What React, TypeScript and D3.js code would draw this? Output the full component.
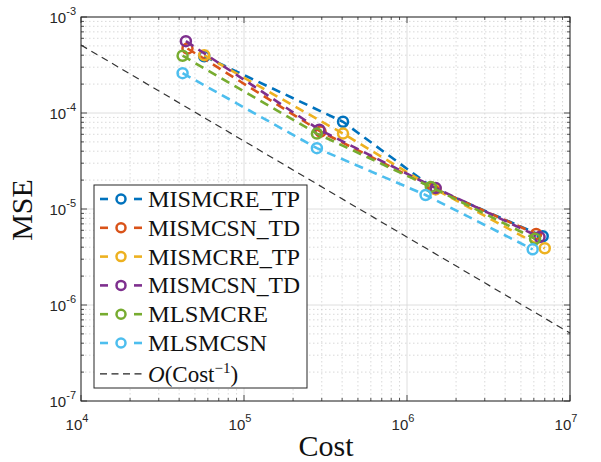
import React from "react";
import * as d3 from "d3";

const seriesNames = ["MISMCRE_TP", "MISMCSN_TD", "MISMCRE_TP", "MISMCSN_TD", "MLSMCRE", "MLSMCSN"];
const seriesColors = ["#0072BD", "#D95319", "#EDB120", "#7E2F8E", "#77AC30", "#4DBEEE"];
const legendTextWidth = [152, 152, 152, 152, 120, 119];

const costBlue = [57e3, 4.05e5, 1.45e6, 6.8e6];
const mseBlue = [3.9e-4, 8.1e-5, 1.65e-5, 5.2e-6];
const costRed = [45e3, 2.95e5, 1.45e6, 6.2e6];
const mseRed = [4.7e-4, 6.4e-5, 1.65e-5, 5.5e-6];
const costYellow = [57e3, 4.05e5, 1.5e6, 7.0e6];
const mseYellow = [4.0e-4, 6.1e-5, 1.6e-5, 3.9e-6];
const costPurple = [44e3, 2.9e5, 1.5e6, 6.5e6];
const msePurple = [5.6e-4, 6.7e-5, 1.65e-5, 5.1e-6];
const costGreen = [42e3, 2.8e5, 1.4e6, 6.1e6];
const mseGreen = [3.95e-4, 6.1e-5, 1.7e-5, 4.9e-6];
const costCyan = [42e3, 2.8e5, 1.3e6, 5.9e6];
const mseCyan = [2.6e-4, 4.3e-5, 1.4e-5, 3.8e-6];

const refCost = [1e4, 1e7];
const refConst = 5.1; // MSE = 5.1 / Cost

const xExp = [4, 5, 6, 7];
const yExp = [-3, -4, -5, -6, -7];

const W = 601, H = 462;
const L = 81, R = 570, T = 17, B = 401;
const serif = "Liberation Serif, Times New Roman, serif";

const App = () => {
  const x = d3.scaleLog().domain([1e4, 1e7]).range([L, R]);
  const y = d3.scaleLog().domain([1e-7, 1e-3]).range([B, T]);

  const series = [
    [costBlue, mseBlue],
    [costRed, mseRed],
    [costYellow, mseYellow],
    [costPurple, msePurple],
    [costGreen, mseGreen],
    [costCyan, mseCyan],
  ].map(([c, m], i) => ({
    name: seriesNames[i],
    color: seriesColors[i],
    pts: c.map((v, j) => [v, m[j]] as [number, number]),
  }));

  const line = d3
    .line<[number, number]>()
    .x(d => x(d[0]))
    .y(d => y(d[1]));

  const refPts = refCost.map(c => [c, refConst / c] as [number, number]);

  const xMinor: number[] = [];
  for (let e = 4; e < 7; e++) for (let k = 2; k <= 9; k++) xMinor.push(k * Math.pow(10, e));
  const yMinor: number[] = [];
  for (let e = -7; e < -3; e++) for (let k = 2; k <= 9; k++) yMinor.push(k * Math.pow(10, e));

  const rowY = (i: number) => 199 + i * 28.8 + (i === 6 ? 2 : 0);

  return (
    <svg width={W} height={H} style={{ position: "absolute", left: 0, top: 0, background: "#fff" }}>
      <rect x={L} y={T} width={R - L} height={B - T} fill="#fff" />
      {/* minor grid */}
      <g stroke="#c8c8c8" strokeWidth={0.7} strokeDasharray="1.5,2.5">
        {xMinor.map((v, i) => <line key={"xm" + i} x1={x(v)} x2={x(v)} y1={T} y2={B} />)}
        {yMinor.map((v, i) => <line key={"ym" + i} x1={L} x2={R} y1={y(v)} y2={y(v)} />)}
      </g>
      {/* major grid */}
      <g stroke="#d6d6d6" strokeWidth={0.8}>
        {xExp.map(e => <line key={"xg" + e} x1={x(10 ** e)} x2={x(10 ** e)} y1={T} y2={B} />)}
        {yExp.map(e => <line key={"yg" + e} x1={L} x2={R} y1={y(10 ** e)} y2={y(10 ** e)} />)}
      </g>

      {/* series */}
      {series.map((s, i) => (
        <g key={i}>
          <path d={line(s.pts) || ""} fill="none" stroke={s.color} strokeWidth={2.6} strokeDasharray="9,6" />
          {s.pts.map((p, j) => (
            <circle key={j} cx={x(p[0])} cy={y(p[1])} r={5} fill="none" stroke={s.color} strokeWidth={2.5} />
          ))}
        </g>
      ))}
      <path d={line(refPts) || ""} fill="none" stroke="#333" strokeWidth={1.2} strokeDasharray="7,5" />

      {/* ticks */}
      <g stroke="#262626" strokeWidth={0.8}>
        {xExp.map(e => (
          <g key={"xt" + e}>
            <line x1={x(10 ** e)} x2={x(10 ** e)} y1={B} y2={B - 6} />
            <line x1={x(10 ** e)} x2={x(10 ** e)} y1={T} y2={T + 6} />
          </g>
        ))}
        {xMinor.map((v, i) => (
          <g key={"xmt" + i}>
            <line x1={x(v)} x2={x(v)} y1={B} y2={B - 3} />
            <line x1={x(v)} x2={x(v)} y1={T} y2={T + 3} />
          </g>
        ))}
        {yExp.map(e => (
          <g key={"yt" + e}>
            <line x1={L} x2={L + 6} y1={y(10 ** e)} y2={y(10 ** e)} />
            <line x1={R} x2={R - 6} y1={y(10 ** e)} y2={y(10 ** e)} />
          </g>
        ))}
        {yMinor.map((v, i) => (
          <g key={"ymt" + i}>
            <line x1={L} x2={L + 3} y1={y(v)} y2={y(v)} />
            <line x1={R} x2={R - 3} y1={y(v)} y2={y(v)} />
          </g>
        ))}
      </g>
      <rect x={L} y={T} width={R - L} height={B - T} fill="none" stroke="#262626" strokeWidth={1} />

      {/* tick labels */}
      <g fontFamily="Liberation Sans, Arial, sans-serif" fill="#262626">
        {xExp.map(e => (
          <text key={"xl" + e} x={x(10 ** e) - 4} y={430} textAnchor="middle" fontSize={15}>
            10<tspan dy={-8} fontSize={11}>{e}</tspan>
          </text>
        ))}
        {yExp.map(e => (
          <text key={"yl" + e} x={76} y={y(10 ** e) + 6} textAnchor="end" fontSize={15}>
            10<tspan dy={-8} fontSize={11}>{e}</tspan>
          </text>
        ))}
      </g>

      {/* axis labels */}
      <text x={326} y={456} textAnchor="middle" fontFamily={serif} fontSize={30} fill="#111">Cost</text>
      <text transform="translate(32,210) rotate(-90)" textAnchor="middle" fontFamily={serif} fontSize={30} fill="#111">MSE</text>

      {/* legend */}
      <rect x={94} y={185} width={213} height={203} fill="#fff" stroke="#262626" strokeWidth={1} />
      {series.map((s, i) => {
        const cy = rowY(i);
        return (
          <g key={"lg" + i}>
            <line x1={100} x2={108} y1={cy} y2={cy} stroke={s.color} strokeWidth={2.6} />
            <line x1={134} x2={142} y1={cy} y2={cy} stroke={s.color} strokeWidth={2.6} />
            <circle cx={121} cy={cy} r={4.5} fill="none" stroke={s.color} strokeWidth={2.5} />
            <text x={148} y={cy + 8} fontFamily={serif} fontSize={23} fill="#111"
              textLength={legendTextWidth[i]} lengthAdjust="spacingAndGlyphs">{s.name}</text>
          </g>
        );
      })}
      <g>
        <line x1={100} x2={142} y1={rowY(6)} y2={rowY(6)} stroke="#222" strokeWidth={1.2} strokeDasharray="7,4.5" />
        <text x={148} y={rowY(6) + 8} fontFamily={serif} fontSize={23} fill="#111">
          <tspan fontStyle="italic">O</tspan>(Cost<tspan dy={-9} fontSize={15}>−1</tspan><tspan dy={9}>)</tspan>
        </text>
      </g>
    </svg>
  );
};

export default App;
